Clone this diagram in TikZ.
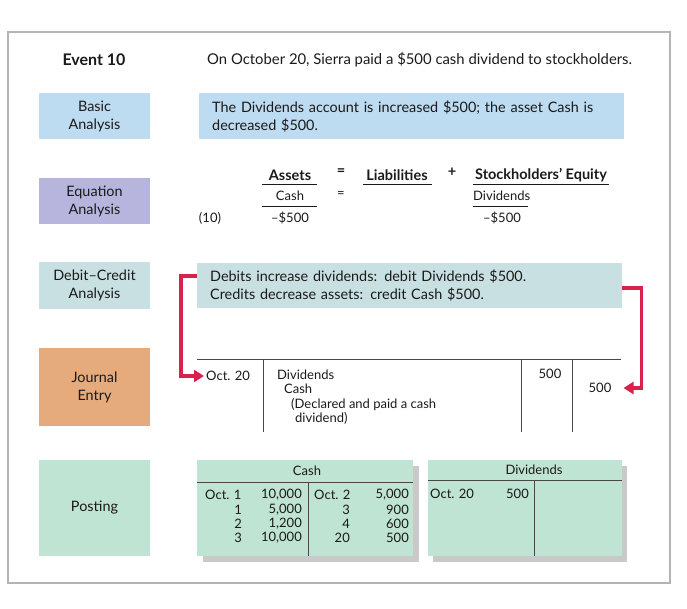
\documentclass[tikz,border=0pt]{standalone}
\usepackage{fontspec}
\setmainfont{Lato}
\usetikzlibrary{arrows.meta}

\definecolor{framegray}{HTML}{B4B4B4}
\definecolor{basicblue}{HTML}{BDDBF1}
\definecolor{eqpurple}{HTML}{B7B5DD}
\definecolor{dcteal}{HTML}{C9E0E2}
\definecolor{jorange}{HTML}{E6AB7D}
\definecolor{postmint}{HTML}{C0E4D4}
\definecolor{shadowgray}{HTML}{C9C9C9}
\definecolor{arrowred}{HTML}{D6224C}
\definecolor{inkgray}{HTML}{1A1A1A}

\tikzset{
  txt/.style={font=\fontsize{14.4}{18}\selectfont, text=inkgray, inner sep=0pt},
  labelbox/.style={txt, minimum width=111pt, minimum height=46pt, align=center},
  widebox/.style={txt, anchor=north west, align=left, inner xsep=13pt, inner ysep=0pt},
  eqbold/.style={txt, font=\fontsize{14.5}{16}\selectfont\bfseries},
  rule/.style={draw=inkgray, line width=0.8pt},
  tline/.style={draw=inkgray!80, line width=0.9pt},
  redarrow/.style={draw=arrowred, line width=3.5pt, -{Triangle[length=10pt,width=12pt]}},
  small/.style={txt, font=\fontsize{13}{14.5}\selectfont},
}

\begin{document}
\begin{tikzpicture}[x=1pt,y=-1pt]
\useasboundingbox (0,0) rectangle (687,609);

% outer frame
\draw[framegray, line width=1.4pt] (8,32) rectangle (670,583);

% event header
\node[txt, font=\fontsize{16}{18}\selectfont\bfseries] (evt) at (94,60) {Event 10};
\node[txt, anchor=west, font=\fontsize{14.85}{16}\selectfont] (evttext) at (207,60)
  {On October 20, Sierra paid a \$500 cash dividend to stockholders.};

% step labels
\node[labelbox, fill=basicblue] (basicL) at (94.5,116) {Basic\\Analysis};
\node[labelbox, fill=eqpurple] (eqL) at (94.5,201.5) {Equation\\Analysis};
\node[labelbox, fill=dcteal] (dcL) at (94.5,285.5) {Debit–Credit\\Analysis};
\node[labelbox, fill=jorange, minimum height=78pt] (jL) at (94.5,387) {Journal\\Entry};
\node[labelbox, fill=postmint, minimum height=96pt] (postL) at (94.5,508) {Posting};

% basic analysis
\node[widebox, fill=basicblue, text width=399pt, minimum height=46pt] (basicR) at (199,93)
  {The Dividends account is increased \$500; the asset Cash is\\decreased \$500.};

% debit-credit analysis
\node[widebox, fill=dcteal, text width=399pt, minimum height=45pt] (dcR) at (197,263)
  {Debits increase dividends: debit Dividends \$500.\\Credits decrease assets: credit Cash \$500.};

% equation analysis
\node[eqbold] (assets) at (290,175) {Assets};
\node[eqbold] (eq1) at (341,172) {=};
\node[eqbold] (liab) at (397,175) {Liabilities};
\node[eqbold] (plus) at (452,172) {+};
\node[eqbold] (se) at (541,175) {Stockholders’ Equity};
\draw[rule] (262,184) -- (317,184);
\draw[rule] (363,184) -- (432,184);
\draw[rule] (473,184) -- (609,184);
\node[small] (cash) at (290,196) {Cash};
\node[small] (eq2) at (341,195) {=};
\node[small, anchor=west] (divs) at (473,196) {Dividends};
\draw[rule] (262,206) -- (317,206);
\draw[rule] (473,206) -- (528,206);
\node[small] (ten) at (210,218) {(10)};
\node[small] (cashamt) at (290,218) {–\$500};
\node[small] (divamt) at (502,218) {–\$500};

% journal entry
\draw[tline] (197,359) -- (621,359);
\draw[tline] (263,359) -- (263,432);
\draw[tline] (521,359) -- (521,432);
\draw[tline] (572,359) -- (572,432);
\node[small, anchor=west] (jdate) at (206,376) {Oct. 20};
\node[small, anchor=west] (jdebit) at (277,375) {Dividends};
\node[small, anchor=west] (jcredit) at (284,389) {Cash};
\node[small, anchor=north west, align=left] (jexpl) at (291,398) {(Declared and paid a cash\\\hspace{4pt}dividend)};
\node[small] (jdr) at (550,374) {500};
\node[small] (jcr) at (600,388) {500};

% connectors from the analysis to the entry
\draw[redarrow] ([yshift=9.5pt]dcR.west) -- ++(-16,0) |- ([xshift=-2pt]jdate.west);
\draw[redarrow] ([yshift=-2.5pt]dcR.east) -- ++(19,0) |- ([xshift=12pt]jcr.east);

% Cash T-account
\fill[shadowgray] (203,466) rectangle (419,562);
\node[fill=postmint, minimum width=216pt, minimum height=96pt, inner sep=0pt, anchor=north west] (cashT) at (197,460) {};
\draw[tline] (197,482) -- (413,482);
\draw[tline] (308,482) -- (308,556);
\node[small] (cashtitle) at (307,471) {Cash};
\node[small, anchor=west] (c1d) at (205,495) {Oct. 1};
\node[small, anchor=east] (c2d) at (242,510) {1};
\node[small, anchor=east] (c3d) at (242,524) {2};
\node[small, anchor=east] (c4d) at (242,538) {3};
\node[small, anchor=east] (c1a) at (302,495) {10,000};
\node[small, anchor=east] (c2a) at (302,510) {5,000};
\node[small, anchor=east] (c3a) at (302,524) {1,200};
\node[small, anchor=east] (c4a) at (302,538) {10,000};
\node[small, anchor=west] (k1d) at (314,495) {Oct. 2};
\node[small, anchor=east] (k2d) at (350,510) {3};
\node[small, anchor=east] (k3d) at (350,524) {4};
\node[small, anchor=east] (k4d) at (350,538) {20};
\node[small, anchor=east] (k1a) at (409,495) {5,000};
\node[small, anchor=east] (k2a) at (409,510) {900};
\node[small, anchor=east] (k3a) at (409,524) {600};
\node[small, anchor=east] (k4a) at (409,538) {500};

% Dividends T-account
\fill[shadowgray] (433,466) rectangle (627,562);
\node[fill=postmint, minimum width=194pt, minimum height=96pt, inner sep=0pt, anchor=north west] (divT) at (428,460) {};
\draw[tline] (428,480) -- (622,480);
\draw[tline] (534,480) -- (534,556);
\node[small] (divtitle) at (534,470) {Dividends};
\node[small, anchor=west] (d1d) at (430,494) {Oct. 20};
\node[small, anchor=east] (d1a) at (529,494) {500};
\end{tikzpicture}
\end{document}
